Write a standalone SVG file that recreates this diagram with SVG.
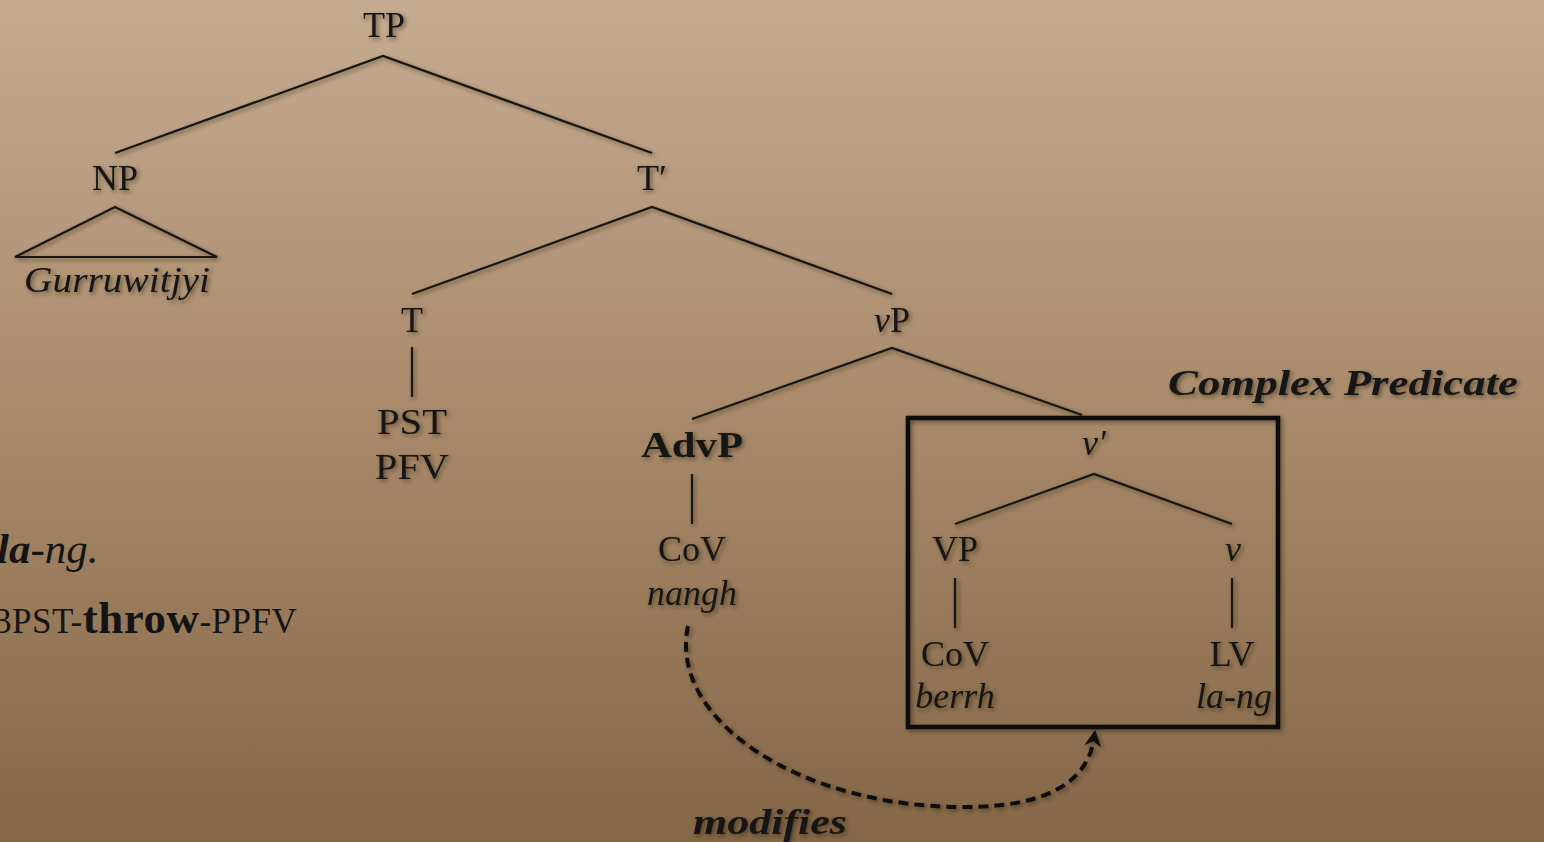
<svg xmlns="http://www.w3.org/2000/svg" width="1544" height="842" viewBox="0 0 1544 842">
  <defs>
    <linearGradient id="bg" x1="0" y1="0" x2="0" y2="1">
      <stop offset="0" stop-color="#c5ab91"/>
      <stop offset="0.5" stop-color="#a88a6a"/>
      <stop offset="1" stop-color="#846747"/>
    </linearGradient>
    <filter id="shadow" x="-10%" y="-10%" width="120%" height="120%">
      <feDropShadow dx="2" dy="2" stdDeviation="2.2" flood-color="#2a1c0e" flood-opacity="0.55"/>
    </filter>
    <marker id="arrow" viewBox="0 0 12 12" refX="6" refY="6" markerWidth="5" markerHeight="5" orient="auto" markerUnits="strokeWidth">
      <path d="M1,1 L11,6 L1,11 L4,6 Z" fill="#111"/>
    </marker>
    <style>
      .lbl { font-family: "Liberation Serif", "DejaVu Serif", serif; font-size: 36px; fill: #141414; text-anchor: middle; }
      .it { font-style: italic; }
      .bd { font-weight: bold; }
      .edge { stroke: #141414; stroke-width: 2.2; fill: none; }
      .gloss { font-family: "Liberation Serif", "DejaVu Serif", serif; fill: #141414; }
    </style>
  </defs>

  <rect x="0" y="0" width="1544" height="842" fill="url(#bg)"/>

  <!-- example sentence and gloss, running in from the left edge -->
  <g id="example" class="gloss">
    <text x="-3" y="563" font-size="43" font-style="italic"><tspan font-weight="bold">la</tspan>-ng.</text>
    <text x="-6" y="633" font-size="35" letter-spacing="0.5">3PST-<tspan font-weight="bold" font-size="45">throw</tspan>-PPFV</text>
  </g>

  <g filter="url(#shadow)">
    <!-- tree branches -->
    <g id="connectors">
      <path class="edge" d="M115,153 L383,56 L652,153"/>
      <path class="edge" d="M115,207 L15,257 L217,257 Z"/>
      <path class="edge" d="M412,294 L652,207 L892,294"/>
      <path class="edge" d="M412,347 L412,397"/>
      <path class="edge" d="M692,419 L892,348 L1082,415"/>
      <path class="edge" d="M692,474 L692,524"/>
      <path class="edge" d="M955,524 L1094,474 L1232,524"/>
      <path class="edge" d="M955,578 L955,628"/>
      <path class="edge" d="M1232,578 L1232,628"/>
      <!-- modification relation -->
      <path d="M688,626 C668,720 800,806 960,807 C1050,808 1088,780 1094,738" fill="none" stroke="#111" stroke-width="4" stroke-dasharray="10,6" marker-end="url(#arrow)"/>
    </g>

    <g id="complex-predicate">
      <rect x="908" y="418" width="370" height="309" fill="none" stroke="#111" stroke-width="4.5"/>
      <text class="lbl it bd" x="1343" y="395" textLength="350" lengthAdjust="spacingAndGlyphs">Complex Predicate</text>
    </g>

    <g id="TP"><text class="lbl" x="384" y="37">TP</text></g>
    <g id="NP"><text class="lbl" x="115" y="190">NP</text></g>
    <g id="Gurruwitjyi"><text class="lbl it" x="117" y="292" textLength="186" lengthAdjust="spacingAndGlyphs">Gurruwitjyi</text></g>
    <g id="Tbar"><text class="lbl" x="652" y="190">T′</text></g>
    <g id="T"><text class="lbl" x="412" y="332">T</text></g>
    <g id="PST-PFV">
      <text class="lbl" x="412" y="434" textLength="70" lengthAdjust="spacingAndGlyphs">PST</text>
      <text class="lbl" x="412" y="479" textLength="74" lengthAdjust="spacingAndGlyphs">PFV</text>
    </g>
    <g id="vP"><text class="lbl" x="892" y="332"><tspan font-style="italic">v</tspan>P</text></g>
    <g id="AdvP"><text class="lbl bd" x="692" y="457" textLength="102" lengthAdjust="spacingAndGlyphs">AdvP</text></g>
    <g id="CoV-nangh">
      <text class="lbl" x="692" y="561">CoV</text>
      <text class="lbl it" x="692" y="605">nangh</text>
    </g>
    <g id="vbar"><text class="lbl it" x="1094" y="455">v′</text></g>
    <g id="VP"><text class="lbl" x="955" y="561">VP</text></g>
    <g id="v"><text class="lbl it" x="1233" y="561">v</text></g>
    <g id="CoV-berrh">
      <text class="lbl" x="955" y="666">CoV</text>
      <text class="lbl it" x="955" y="708">berrh</text>
    </g>
    <g id="LV-la-ng">
      <text class="lbl" x="1232" y="666">LV</text>
      <text class="lbl it" x="1234" y="708">la-ng</text>
    </g>
    <g id="modifies"><text class="lbl it bd" x="770" y="834" textLength="154" lengthAdjust="spacingAndGlyphs">modifies</text></g>
  </g>
</svg>
